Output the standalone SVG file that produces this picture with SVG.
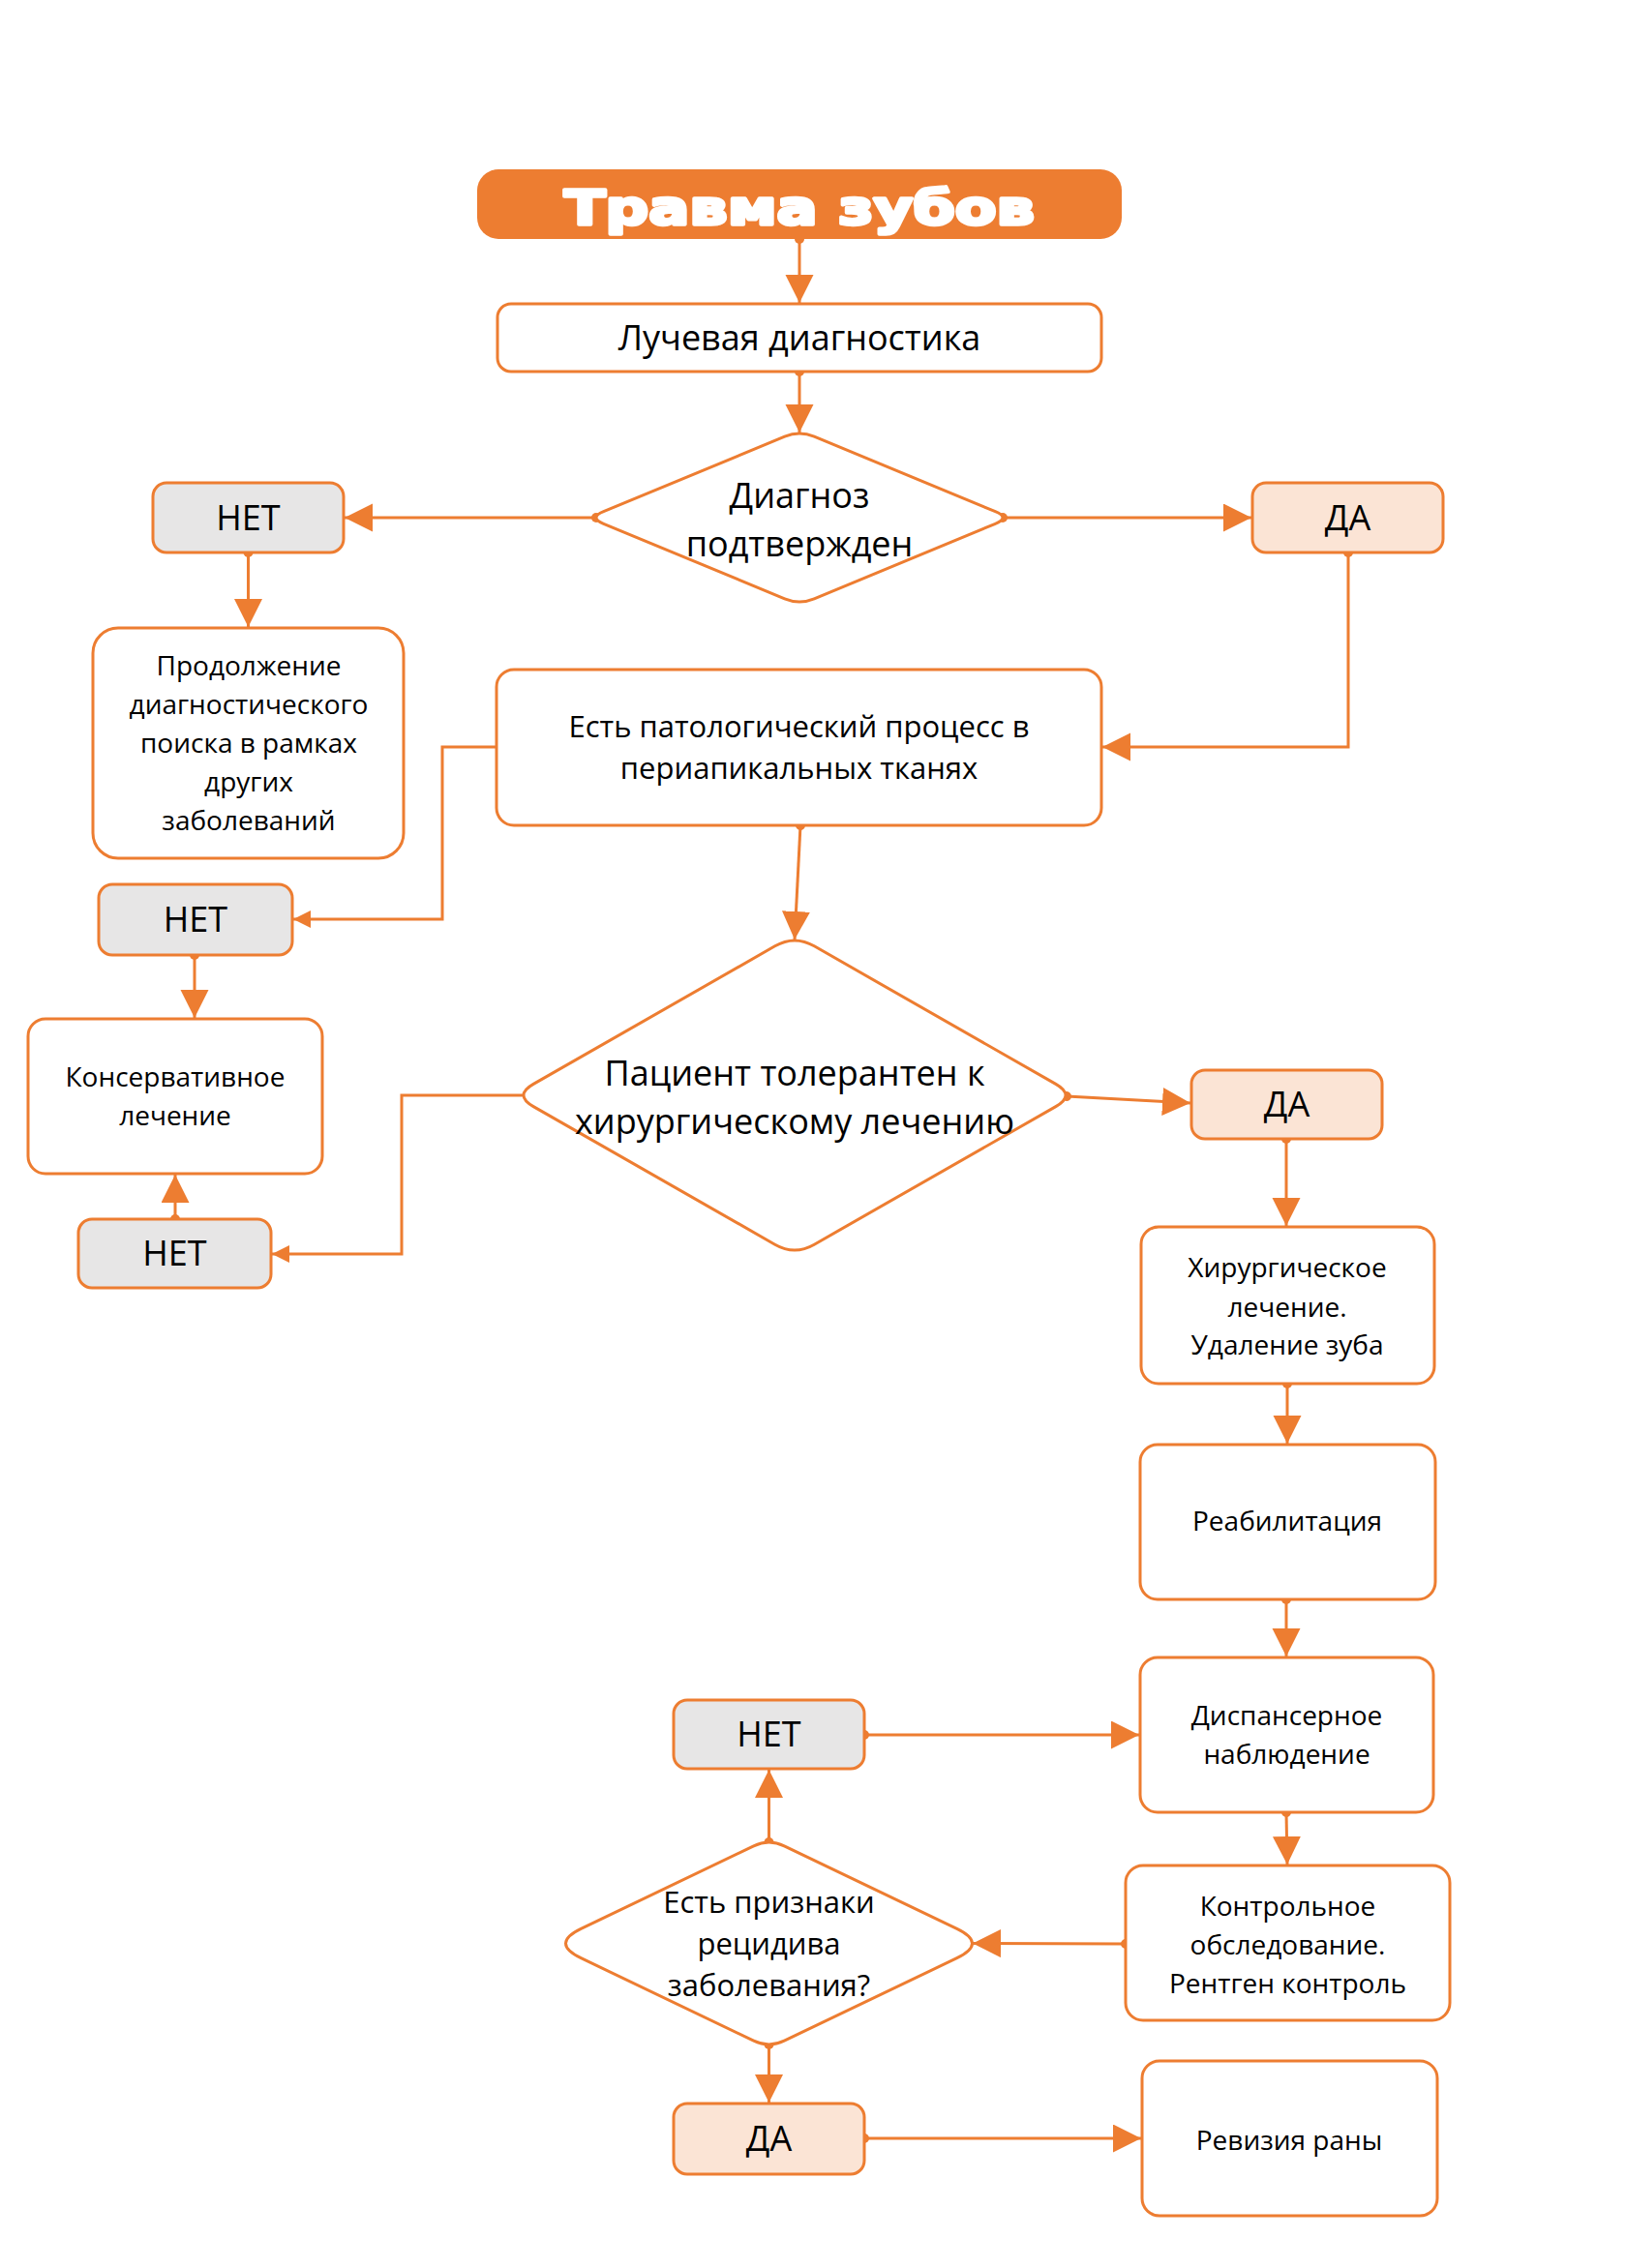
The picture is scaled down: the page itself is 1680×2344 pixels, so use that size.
<svg xmlns="http://www.w3.org/2000/svg" width="1680" height="2344" viewBox="0 0 1680 2344">
<style>
.box{fill:#FFFFFF;stroke:#ED7D31;stroke-width:3}
.net{fill:#E7E6E6;stroke:#ED7D31;stroke-width:3}
.da{fill:#FBE4D5;stroke:#ED7D31;stroke-width:3}
.dia{fill:#FFFFFF;stroke:#ED7D31;stroke-width:3;stroke-linejoin:round}
.t{font-family:"Open Sans","Noto Sans","DejaVu Sans",sans-serif;fill:#000000;text-anchor:middle}
.s28{font-size:28px}
.s31{font-size:31px}
.s36{font-size:36px}
.c{fill:none;stroke:#ED7D31;stroke-width:3;marker-start:url(#dot);marker-end:url(#arr)}
.cn{fill:none;stroke:#ED7D31;stroke-width:3;marker-end:url(#arrs)}
</style>
<defs>
<marker id="arr" markerUnits="userSpaceOnUse" markerWidth="30" markerHeight="30" refX="29" refY="14.5" orient="auto" viewBox="0 0 30 30">
<path d="M0,0 L29,14.5 L0,29 Z" fill="#ED7D31"/>
</marker>
<marker id="arrs" markerUnits="userSpaceOnUse" markerWidth="20" markerHeight="20" refX="18" refY="9" orient="auto" viewBox="0 0 20 20">
<path d="M0,0 L18,9 L0,18 Z" fill="#ED7D31"/>
</marker>
<marker id="dot" markerUnits="userSpaceOnUse" markerWidth="12" markerHeight="12" refX="6" refY="6" orient="auto" viewBox="0 0 12 12">
<circle cx="6" cy="6" r="5" fill="#ED7D31"/>
</marker>
</defs>
<rect width="1680" height="2344" fill="#FFFFFF"/>

<g id="connectors">
<path class="c" d="M826,247 L826,313"/>
<path class="c" d="M826,384 L826,447"/>
<path class="c" d="M616,535 L356,535"/>
<path class="c" d="M1036,535 L1293,535"/>
<path class="c" d="M256.5,571 L256.5,648"/>
<path class="c" d="M1393,571 L1393,772 L1139,772"/>
<path class="cn" d="M513,772 L457,772 L457,950 L303,950"/>
<path class="c" d="M827,853 L821,971"/>
<path class="c" d="M201,987 L201,1052"/>
<path class="cn" d="M541,1132 L415,1132 L415,1296 L281,1296"/>
<path class="c" d="M1102,1133 L1230,1140"/>
<path class="c" d="M181,1260 L181,1214"/>
<path class="c" d="M1329,1177 L1329,1267"/>
<path class="c" d="M1330,1430 L1330,1492"/>
<path class="c" d="M1329,1653 L1329,1712"/>
<path class="c" d="M893,1793 L1177,1793"/>
<path class="c" d="M1329,1873 L1330,1927"/>
<path class="c" d="M794.5,1904 L794.5,1829"/>
<path class="c" d="M1163,2009 L1005,2008.5"/>
<path class="c" d="M794.5,2113 L794.5,2173"/>
<path class="c" d="M893,2210 L1179,2210"/>
</g>

<g id="title">
<rect x="493" y="175" width="666" height="72" rx="22" fill="#ED7D31"/>
<text x="826" y="232" font-family="'DejaVu Sans','Liberation Sans',sans-serif" font-weight="bold" font-size="50" fill="#FFFFFF" stroke="#FFFFFF" stroke-width="3.5" stroke-linejoin="round" text-anchor="middle" textLength="486" lengthAdjust="spacingAndGlyphs">Травма зубов</text>
</g>

<g id="luch">
<rect class="box" x="514" y="314" width="624" height="70" rx="14"/>
<text class="t s36" x="826" y="362">Лучевая диагностика</text>
</g>

<g id="diag">
<path class="dia" d="M841.23,451.15 L1028.37,528.69 Q1043.6,535 1028.37,541.31 L841.23,618.85 Q826,625.16 810.77,618.85 L623.63,541.31 Q608.4,535 623.63,528.69 L810.77,451.15 Q826,444.84 841.23,451.15 Z"/>
<text class="t s36" x="826" y="525">Диагноз</text>
<text class="t s36" x="826" y="575">подтвержден</text>
</g>

<g id="net1">
<rect class="net" x="158" y="499" width="197" height="72" rx="14"/>
<text class="t s36" x="256.5" y="548">НЕТ</text>
</g>

<g id="da1">
<rect class="da" x="1294" y="499" width="197" height="72" rx="14"/>
<text class="t s36" x="1392.5" y="548">ДА</text>
</g>

<g id="prod">
<rect class="box" x="96" y="649" width="321" height="238" rx="26"/>
<text class="t s28" x="257" y="698">Продолжение</text>
<text class="t s28" x="257" y="738">диагностического</text>
<text class="t s28" x="257" y="778">поиска в рамках</text>
<text class="t s28" x="257" y="818">других</text>
<text class="t s28" x="257" y="858">заболеваний</text>
</g>

<g id="est">
<rect class="box" x="513" y="692" width="625" height="161" rx="18"/>
<text class="t s31" x="825.5" y="762">Есть патологический процесс в</text>
<text class="t s31" x="825.5" y="805">периапикальных тканях</text>
</g>

<g id="net2">
<rect class="net" x="102" y="914" width="200" height="73" rx="14"/>
<text class="t s36" x="202" y="963">НЕТ</text>
</g>

<g id="konserv">
<rect class="box" x="29" y="1053" width="304" height="160" rx="18"/>
<text class="t s28" x="181" y="1123">Консервативное</text>
<text class="t s28" x="181" y="1163">лечение</text>
</g>

<g id="tolerant">
<path class="dia" d="M841.31,977.81 L1090.85,1120.39 Q1111.16,1132 1090.85,1143.61 L841.31,1286.19 Q821,1297.8 800.69,1286.19 L551.15,1143.61 Q530.84,1132 551.15,1120.39 L800.69,977.81 Q821,966.2 841.31,977.81 Z"/>
<text class="t s36" x="821" y="1122">Пациент толерантен к</text>
<text class="t s36" x="821" y="1172">хирургическому лечению</text>
</g>

<g id="net3">
<rect class="net" x="81" y="1260" width="199" height="71" rx="14"/>
<text class="t s36" x="180.5" y="1308">НЕТ</text>
</g>

<g id="da2">
<rect class="da" x="1231" y="1106" width="197" height="71" rx="14"/>
<text class="t s36" x="1329.5" y="1154">ДА</text>
</g>

<g id="hir">
<rect class="box" x="1179" y="1268" width="303" height="162" rx="18"/>
<text class="t s28" x="1330" y="1320">Хирургическое</text>
<text class="t s28" x="1330" y="1361">лечение.</text>
<text class="t s28" x="1330" y="1400">Удаление зуба</text>
</g>

<g id="reab">
<rect class="box" x="1178" y="1493" width="305" height="160" rx="18"/>
<text class="t s28" x="1330" y="1582">Реабилитация</text>
</g>

<g id="disp">
<rect class="box" x="1178" y="1713" width="303" height="160" rx="18"/>
<text class="t s28" x="1329.5" y="1783">Диспансерное</text>
<text class="t s28" x="1329.5" y="1823">наблюдение</text>
</g>

<g id="net4">
<rect class="net" x="696" y="1757" width="197" height="71" rx="14"/>
<text class="t s36" x="794.5" y="1805">НЕТ</text>
</g>

<g id="kontr">
<rect class="box" x="1163" y="1928" width="335" height="160" rx="18"/>
<text class="t s28" x="1330.5" y="1980">Контрольное</text>
<text class="t s28" x="1330.5" y="2020">обследование.</text>
<text class="t s28" x="1330.5" y="2060">Рентген контроль</text>
</g>

<g id="recid">
<path class="dia" d="M810.3,1907.78 L988.7,1993.34 Q1020.3,2008.5 988.7,2023.66 L810.3,2109.22 Q794.5,2116.8 778.7,2109.22 L600.3,2023.66 Q568.7,2008.5 600.3,1993.34 L778.7,1907.78 Q794.5,1900.2 810.3,1907.78 Z"/>
<text class="t s31" x="794.5" y="1977">Есть признаки</text>
<text class="t s31" x="794.5" y="2020">рецидива</text>
<text class="t s31" x="794.5" y="2063">заболевания?</text>
</g>

<g id="da3">
<rect class="da" x="696" y="2174" width="197" height="73" rx="14"/>
<text class="t s36" x="794.5" y="2223">ДА</text>
</g>

<g id="reviz">
<rect class="box" x="1180" y="2130" width="305" height="160" rx="18"/>
<text class="t s28" x="1332" y="2222">Ревизия раны</text>
</g>
</svg>
